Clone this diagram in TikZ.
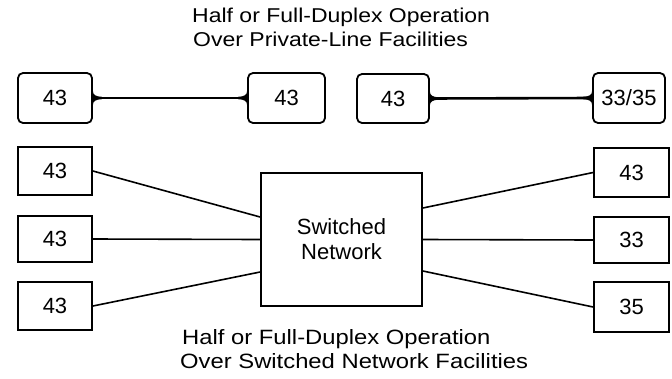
\documentclass[tikz,border=0pt]{standalone}
\usepackage{fontspec}
\setmainfont{Liberation Sans}
\newfontfamily\titlefont[FakeStretch=1.15]{Liberation Sans}
\begin{document}
\begin{tikzpicture}[x=1pt,y=-1pt,
  box/.style={draw,line width=1.8pt,inner sep=0pt,font=\fontsize{22}{24}\selectfont},
  rbox/.style={box,rounded corners=5pt},
  link/.style={line width=1.6pt},
  plink/.style={line width=2.6pt},
  flare/.style={fill=black},
  ttl/.style={inner sep=0pt,anchor=base west,font=\titlefont\fontsize{20}{24}\selectfont},
  ttlb/.style={ttl,font=\titlefont\fontsize{20.7}{24}\selectfont}]
\useasboundingbox (0,0) rectangle (672,378);
% titles
\node[ttl] (t1a) at (192,22) {Half or Full-Duplex Operation};
\node[ttl] (t1b) at (193,46) {Over Private-Line Facilities};
\node[ttlb] (t2a) at (182,344) {Half or Full-Duplex Operation};
\node[ttlb] (t2b) at (180,368) {Over Switched Network Facilities};
% top boxes
\node[rbox,minimum width=74pt,minimum height=50pt] (a1) at (55,98) {43};
\node[rbox,minimum width=77pt,minimum height=50pt] (a2) at (286.5,98) {43};
\node[rbox,minimum width=72pt,minimum height=49pt] (a3) at (393,98.5) {43};
\node[rbox,minimum width=72pt,minimum height=50pt] (a4) at (629,98) {33/35};
\draw[plink] (a1.east) -- (a2.west);
\draw[plink] (a3.east) -- (a4.west);
% flares where the private lines meet the boxes
\foreach \n/\a/\s in {a1/east/1,a2/west/-1,a3/east/1,a4/west/-1}{
  \begin{scope}[shift={(\n.\a)},xscale=\s]
    \fill[flare] (0,-7) .. controls (0,-3) and (3,-1.4) .. (9,-1.2) -- (9,1.2)
      .. controls (3,1.4) and (0,3) .. (0,7) -- cycle;
  \end{scope}
}
% switched network
\node[box,minimum width=74pt,minimum height=48pt] (l1) at (55,171) {43};
\node[box,minimum width=74pt,minimum height=46pt] (l2) at (55,239) {43};
\node[box,minimum width=74pt,minimum height=48pt] (l3) at (55,306) {43};
\node[box,minimum width=75pt,minimum height=49pt] (r1) at (631.5,172.5) {43};
\node[box,minimum width=75pt,minimum height=46pt] (r2) at (631.5,240) {33};
\node[box,minimum width=75pt,minimum height=50pt] (r3) at (631.5,307) {35};
\node[box,minimum width=161pt,minimum height=133pt,align=center,font=\fontsize{22}{25}\selectfont] (c) at (341.5,239.5) {Switched\\Network};
\draw[link] (l1.east) -- ([yshift=22.5pt]c.west);
\draw[link] (l2.east) -- (c.west);
\draw[link] (l3.east) -- ([yshift=-32.5pt]c.west);
\draw[link] (r1.west) -- ([yshift=31.5pt]c.east);
\draw[link] (r2.west) -- (c.east);
\draw[link] (r3.west) -- ([yshift=-31.5pt]c.east);
\end{tikzpicture}
\end{document}
